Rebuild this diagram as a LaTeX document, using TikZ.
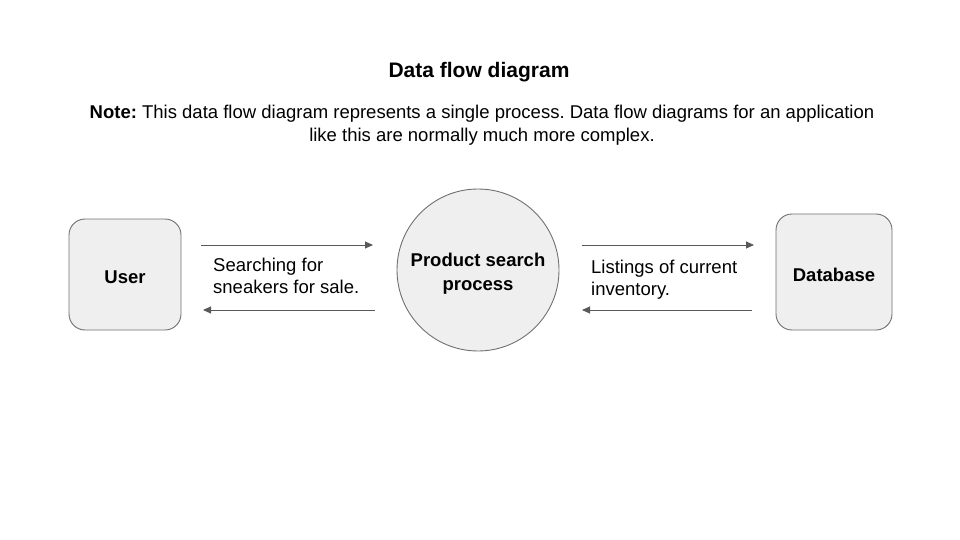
\documentclass[tikz,border=0pt]{standalone}
\usepackage{fontspec}
\setmainfont{Liberation Sans}
\usetikzlibrary{arrows.meta}
\definecolor{boxfill}{HTML}{EFEFEF}
\definecolor{boxline}{HTML}{707070}
\definecolor{flowline}{HTML}{595959}
\frenchspacing
\begin{document}
\begin{tikzpicture}[x=1pt, y=-1pt, line join=round,
  font=\fontsize{18.5}{22}\selectfont,
  entity/.style={draw=boxline, fill=boxfill, line width=0.9pt, rounded corners=16pt, inner sep=0pt},
  procnode/.style={draw=boxline, fill=boxfill, line width=0.9pt, circle, inner sep=0pt, minimum size=162pt},
  inlabel/.style={align=center, yshift=-3pt, font=\fontsize{18.5}{24}\selectfont\bfseries},
  flow/.style={draw=flowline, line width=0.9pt, -{Triangle[length=8pt, width=7pt]}},
  flowlabel/.style={anchor=west, align=left, inner sep=0pt}]
\useasboundingbox (0,0) rectangle (960,540);
% titles
\node (title) at (479,72) {\fontsize{21}{25}\selectfont\bfseries Data flow diagram};
\node (note) at (482,125) [align=center, font=\fontsize{18.5}{22.5}\selectfont] {\textbf{Note:} This data flow diagram represents a single process. Data flow diagrams for an application\\like this are normally much more complex.};
% entities and process
\node[entity, minimum width=112pt, minimum height=111pt, label={[inlabel]center:User}] (user) at (125,274.5) {};
\node[procnode, label={[inlabel, yshift=-0.5pt]center:Product search\\process}] (proc) at (478,270) {};
\node[entity, minimum width=116pt, minimum height=116pt, label={[inlabel]center:Database}] (db) at (834,272) {};
% arrow ends
\coordinate (ua) at (201,245); \coordinate (pa) at (373,245);
\coordinate (pb) at (375,310); \coordinate (ub) at (203,310);
\coordinate (pc) at (582,245); \coordinate (da) at (754,245);
\coordinate (db2) at (752,310); \coordinate (pd) at (582,310);
\draw[flow] (ua) -- (pa);
\draw[flow] (pb) -- (ub);
\draw[flow] (pc) -- (da);
\draw[flow] (db2) -- (pd);
% labels
\node[flowlabel] (search) at (213,276) {Searching for\\sneakers for sale.};
\node[flowlabel] (list) at (591,279.5) {Listings of current\\inventory.};
\end{tikzpicture}
\end{document}
